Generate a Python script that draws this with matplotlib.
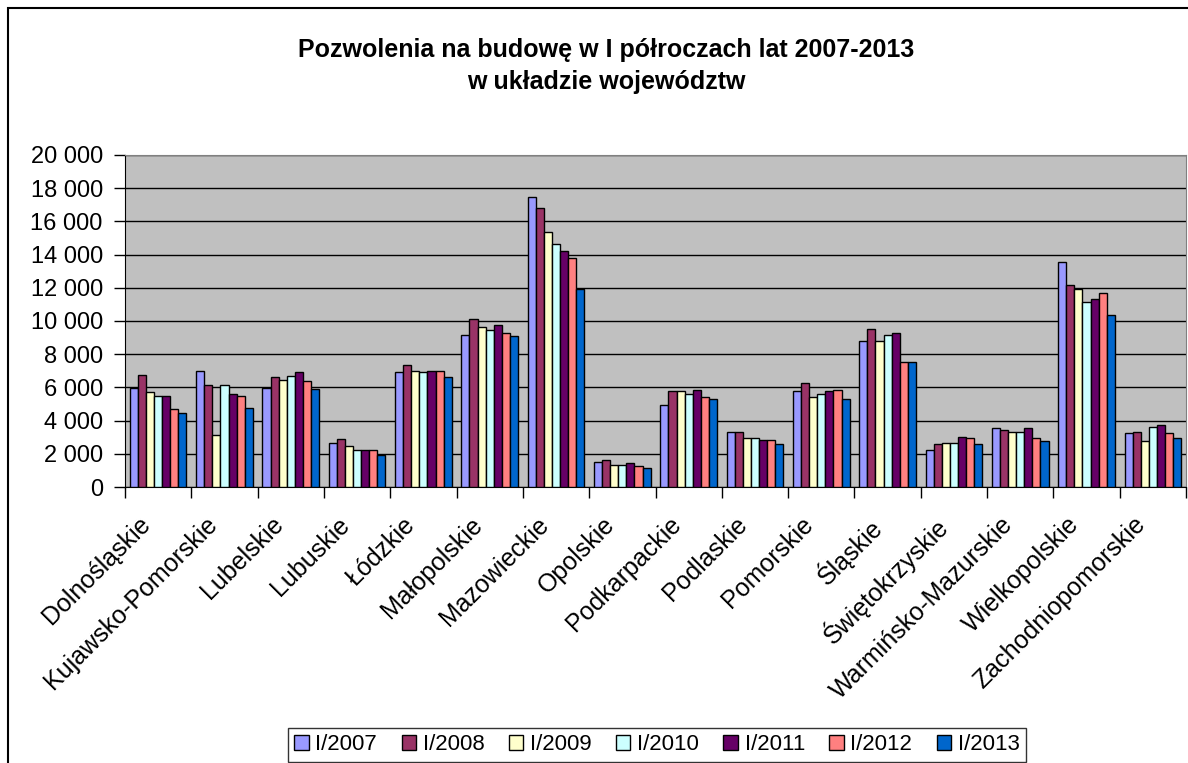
import matplotlib.pyplot as plt
import matplotlib.transforms as mtransforms
import numpy as np
from matplotlib.patches import Rectangle
from matplotlib.ticker import FuncFormatter, MultipleLocator

plt.rcParams['font.family'] = ['Liberation Sans', 'DejaVu Sans']

wojewodztwa = ['Dolnośląskie', 'Kujawsko-Pomorskie', 'Lubelskie', 'Lubuskie', 'Łódzkie',
               'Małopolskie', 'Mazowieckie', 'Opolskie', 'Podkarpackie', 'Podlaskie',
               'Pomorskie', 'Śląskie', 'Świętokrzyskie', 'Warmińsko-Mazurskie',
               'Wielkopolskie', 'Zachodniopomorskie']
lata = ['I/2007', 'I/2008', 'I/2009', 'I/2010', 'I/2011', 'I/2012', 'I/2013']

r2007 = [5960, 7010, 5960, 2680, 6930, 9180, 17440, 1530, 4930, 3320, 5780, 8780, 2220, 3540, 13570, 3240]
r2008 = [6730, 6140, 6600, 2880, 7370, 10110, 16800, 1630, 5780, 3320, 6260, 9530, 2580, 3420, 12160, 3340]
r2009 = [5700, 3140, 6440, 2500, 7010, 9630, 15390, 1350, 5780, 2960, 5400, 8780, 2680, 3320, 11900, 2780]
r2010 = [5500, 6140, 6710, 2220, 6910, 9450, 14620, 1350, 5600, 2960, 5600, 9180, 2680, 3320, 11160, 3630]
r2011 = [5500, 5600, 6930, 2220, 7010, 9750, 14240, 1450, 5860, 2860, 5780, 9260, 3040, 3540, 11340, 3710]
r2012 = [4670, 5500, 6360, 2220, 7010, 9260, 13800, 1270, 5400, 2860, 5860, 7550, 2960, 2960, 11700, 3240]
r2013 = [4450, 4750, 5880, 1930, 6600, 9080, 11900, 1150, 5300, 2580, 5300, 7550, 2580, 2760, 10390, 2960]

serie = [r2007, r2008, r2009, r2010, r2011, r2012, r2013]
kolory = ['#9999FF', '#993366', '#FFFFCC', '#CCFFFF', '#660066', '#FF8080', '#0066CC']

fig = plt.figure(figsize=(11.88, 7.63), dpi=100)
ax = fig.add_axes([125 / 1188, 1 - 487 / 763, (1186 - 125) / 1188, (487 - 155) / 763])

x = np.arange(len(wojewodztwa))
w = 0.122
for i, (s, c) in enumerate(zip(serie, kolory)):
    ax.bar(x + (i - 3) * w, s, width=w, color=c, edgecolor='black', linewidth=1,
           label=lata[i], zorder=3)

ax.set_facecolor('#C0C0C0')
ax.set_xlim(-0.5, len(wojewodztwa) - 0.5)
ax.set_ylim(0, 20000)
ax.yaxis.set_major_locator(MultipleLocator(2000))
ax.yaxis.set_major_formatter(FuncFormatter(lambda v, p: f'{int(v):,}'.replace(',', ' ')))
ax.grid(axis='y', color='black', linewidth=1, zorder=1)
ax.tick_params(axis='y', labelsize=17, length=8, width=1, pad=8, direction='out')

ax.set_xticks(np.arange(len(wojewodztwa) + 1) - 0.5)
ax.set_xticklabels([])
ax.set_xticks(x, minor=True)
ax.set_xticklabels(wojewodztwa, minor=True, rotation=45, ha='right', va='top',
                   rotation_mode='anchor', fontsize=18)
ax.tick_params(axis='x', which='major', length=8, width=1)
ax.tick_params(axis='x', which='minor', length=0, pad=14)
przesun = mtransforms.ScaledTranslation(-20 / 100, -6 / 100, fig.dpi_scale_trans)
for lab in ax.get_xticklabels(minor=True):
    lab.set_transform(lab.get_transform() + przesun)

for side in ['top', 'right']:
    ax.spines[side].set_color('#808080')
for side in ['left', 'bottom']:
    ax.spines[side].set_color('black')

fig.text(0.51, 1 - 50 / 763, 'Pozwolenia na budowę w I półroczach lat 2007-2013',
         ha='center', va='center', fontsize=18, fontweight='bold')
fig.text(0.51, 1 - 82 / 763, 'w układzie województw',
         ha='center', va='center', fontsize=18, fontweight='bold')

fig.patches.append(Rectangle((8 / 1188, -0.01), 1.1, 1 - 8 / 763 + 0.01, transform=fig.transFigure,
                             fill=False, edgecolor='black', linewidth=1.5))

leg = fig.legend(loc='center', bbox_to_anchor=(657 / 1188, 1 - 745 / 763), ncol=7,
                 fontsize=16, frameon=True, fancybox=False, edgecolor='black',
                 handlelength=0.65, handleheight=0.65, handletextpad=0.3, columnspacing=1.1,
                 borderpad=0.3)
leg.get_frame().set_linewidth(1)

fig.savefig('out.png', dpi=100)
